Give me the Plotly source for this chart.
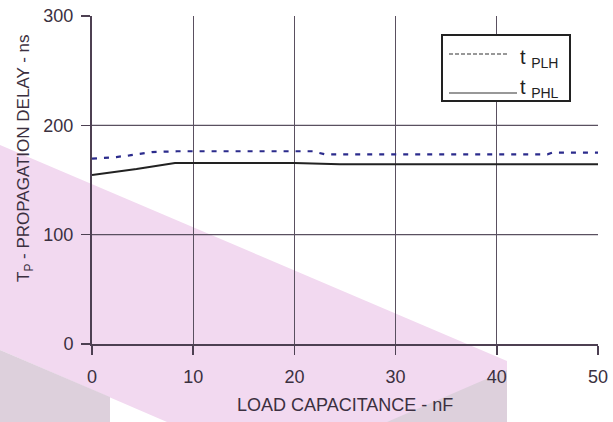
import plotly.graph_objects as go

# ---- data ----
plh_x = [0, 2.4, 3.7, 5.0, 5.9, 8.4, 21.8, 23.0, 45.0, 45.5, 50]
plh_y = [169.5, 171, 172.5, 174.5, 175.5, 176.3, 176.3, 173.5, 173.5, 175, 175]
phl_x = [0, 4.4, 8.2, 20, 24.5, 50]
phl_y = [154.5, 160, 165.6, 165.6, 164.4, 164.4]
x_ticks = [0, 10, 20, 30, 40, 50]
y_ticks = [0, 100, 200, 300]
y_grid = [100, 200]
x_title = "LOAD CAPACITANCE - nF"
y_title = "T<sub>P</sub> - PROPAGATION DELAY - ns"
legend_names = ["t <sub>PLH</sub>", "t <sub>PHL</sub>"]

W, H = 613, 422
L, R, T, B = 92, 15, 16, 78
PW, PH = W - L - R, H - T - B

def px(x):
    return (x - L) / PW

def py(y):
    return (H - B - y) / PH

FONT = "Liberation Sans, Arial, sans-serif"
TXT = "#3b3040"
AX = "#4d4052"
GRID = "#5a5060"

fig = go.Figure()
fig.add_trace(go.Scatter(x=plh_x, y=plh_y, mode="lines", name="tPLH",
                         line=dict(color="#2b2b8c", width=2.2, dash="5px,7px"),
                         showlegend=False))
fig.add_trace(go.Scatter(x=phl_x, y=phl_y, mode="lines", name="tPHL",
                         line=dict(color="#222222", width=2),
                         showlegend=False))

shapes = []
def path(pts):
    return "M " + " L ".join(f"{px(a):.5f},{py(b):.5f}" for a, b in pts) + " Z"

# watermark background
shapes.append(dict(type="path", xref="paper", yref="paper", layer="below",
                   path=path([(0, 145), (507, 361), (507, 422), (167, 422), (0, 350)]),
                   fillcolor="#f2d9f0", line=dict(width=0)))
shapes.append(dict(type="path", xref="paper", yref="paper", layer="below",
                   path=path([(0, 350), (110, 397), (110, 422), (0, 422)]),
                   fillcolor="#ddd0dc", line=dict(width=0)))
shapes.append(dict(type="path", xref="paper", yref="paper", layer="below",
                   path=path([(387, 422), (507, 370), (507, 422)]),
                   fillcolor="#ddd0dc", line=dict(width=0)))

# horizontal grid lines (none at the top edge)
for g in y_grid:
    shapes.append(dict(type="line", xref="paper", yref="y", layer="below",
                       x0=0, x1=1, y0=g, y1=g,
                       line=dict(color=GRID, width=1.3)))

# legend box
shapes.append(dict(type="rect", xref="paper", yref="paper",
                   x0=px(442), x1=px(570), y0=py(101), y1=py(35),
                   fillcolor="white", line=dict(color="#222222", width=2)))
shapes.append(dict(type="line", xref="paper", yref="paper",
                   x0=px(449), x1=px(507), y0=py(54), y1=py(54),
                   line=dict(color="#333333", width=1.2, dash="4px,2px")))
shapes.append(dict(type="line", xref="paper", yref="paper",
                   x0=px(449), x1=px(517), y0=py(93), y1=py(93),
                   line=dict(color="#333333", width=1.2)))

annotations = [
    dict(text=legend_names[0], xref="paper", yref="paper", x=px(518), y=py(58),
         xanchor="left", yanchor="middle", showarrow=False,
         font=dict(family=FONT, size=20, color="#222222")),
    dict(text=legend_names[1], xref="paper", yref="paper", x=px(518), y=py(89),
         xanchor="left", yanchor="middle", showarrow=False,
         font=dict(family=FONT, size=20, color="#222222")),
    dict(text=x_title, xref="paper", yref="paper", x=px(345), y=py(405),
         xanchor="center", yanchor="middle", showarrow=False,
         font=dict(family=FONT, size=18, color=TXT)),
    dict(text=y_title, xref="paper", yref="paper", x=px(25), y=py(158),
         xanchor="center", yanchor="middle", showarrow=False, textangle=-90,
         font=dict(family=FONT, size=17, color=TXT)),
]

fig.update_layout(
    width=W, height=H,
    margin=dict(l=L, r=R, t=T, b=B, pad=0),
    paper_bgcolor="white",
    plot_bgcolor="rgba(0,0,0,0)",
    shapes=shapes,
    annotations=annotations,
    font=dict(family=FONT, size=18, color=TXT),
)
fig.update_xaxes(range=[0, 50], tickvals=x_ticks, ticks="outside", ticklen=9,
                 tickwidth=1.5, tickcolor=AX, showline=True, linecolor=AX,
                 linewidth=2, showgrid=True, gridcolor=GRID, gridwidth=1.3,
                 zeroline=False, tickfont=dict(family=FONT, size=18, color=TXT),
                 ticklabelstandoff=6, automargin=False, fixedrange=True)
fig.update_yaxes(range=[0, 300], tickvals=y_ticks, ticks="outside", ticklen=9,
                 tickwidth=1.5, tickcolor=AX, showline=True, linecolor=AX,
                 linewidth=2, showgrid=False,
                 zeroline=False, tickfont=dict(family=FONT, size=18, color=TXT),
                 ticklabelstandoff=4, automargin=False, fixedrange=True)

fig.write_html("out.html",
               config={"displayModeBar": False, "staticPlot": True},
               post_script="document.body.style.margin='0';document.body.style.overflow='hidden';")
